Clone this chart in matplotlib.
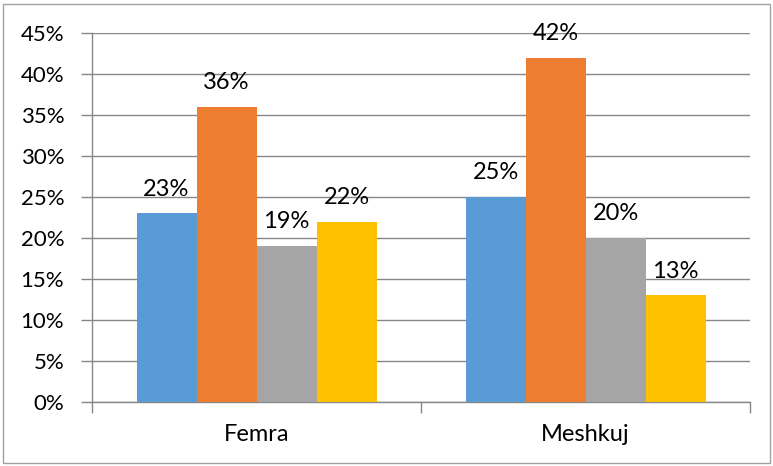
import numpy as np
import matplotlib.pyplot as plt
from matplotlib.patches import Rectangle
from matplotlib.ticker import MultipleLocator, FixedLocator

plt.rcParams['font.family'] = ['Lato', 'DejaVu Sans']

kategorite = ["Femra", "Meshkuj"]
seri1 = [23, 25]
seri2 = [36, 42]
seri3 = [19, 20]
seri4 = [22, 13]
seriet = [seri1, seri2, seri3, seri4]
ngjyrat = ["#5B9BD5", "#ED7D31", "#A5A5A5", "#FFC000"]

fig = plt.figure(figsize=(7.73, 4.66), dpi=100)
ax = fig.add_axes([92 / 773, 64 / 466, 658 / 773, 369 / 466])

x = np.arange(len(kategorite)) + 0.5
w = 60 / 329
for i, (vals, c) in enumerate(zip(seriet, ngjyrat)):
    pos = x + (i - 1.5) * w
    ax.bar(pos, vals, width=w, color=c, zorder=3)
    for px, v in zip(pos, vals):
        ax.annotate(f"{v}%", (px, v), xytext=(0, 10), textcoords="offset points",
                    ha="center", va="bottom", fontsize=17, color="#000000")

ax.set_xlim(0, 2)
ax.set_ylim(0, 45)
ax.yaxis.set_major_locator(MultipleLocator(5))
ax.set_yticklabels([f"{int(t)}%" for t in ax.get_yticks()])
ax.set_xticks(x)
ax.set_xticklabels(kategorite)
ax.xaxis.set_minor_locator(FixedLocator([0, 1, 2]))

grid_c = "#878787"
ax.grid(axis="y", color=grid_c, linewidth=1, zorder=0)
for s in ["top", "right"]:
    ax.spines[s].set_visible(False)
for s in ["left", "bottom"]:
    ax.spines[s].set_color(grid_c)
    ax.spines[s].set_linewidth(1)

ax.tick_params(axis="y", length=8, width=1, color=grid_c, pad=12, labelsize=16)
ax.tick_params(axis="x", which="major", length=0, pad=16, labelsize=17)
ax.tick_params(axis="x", which="minor", length=8, width=1, color=grid_c)

fig.patches.append(Rectangle((3.5 / 773, 3.5 / 466), 766 / 773, 459 / 466,
                             transform=fig.transFigure, fill=False,
                             edgecolor="#A0A0A0", linewidth=1))

plt.savefig("out.png", dpi=100)
